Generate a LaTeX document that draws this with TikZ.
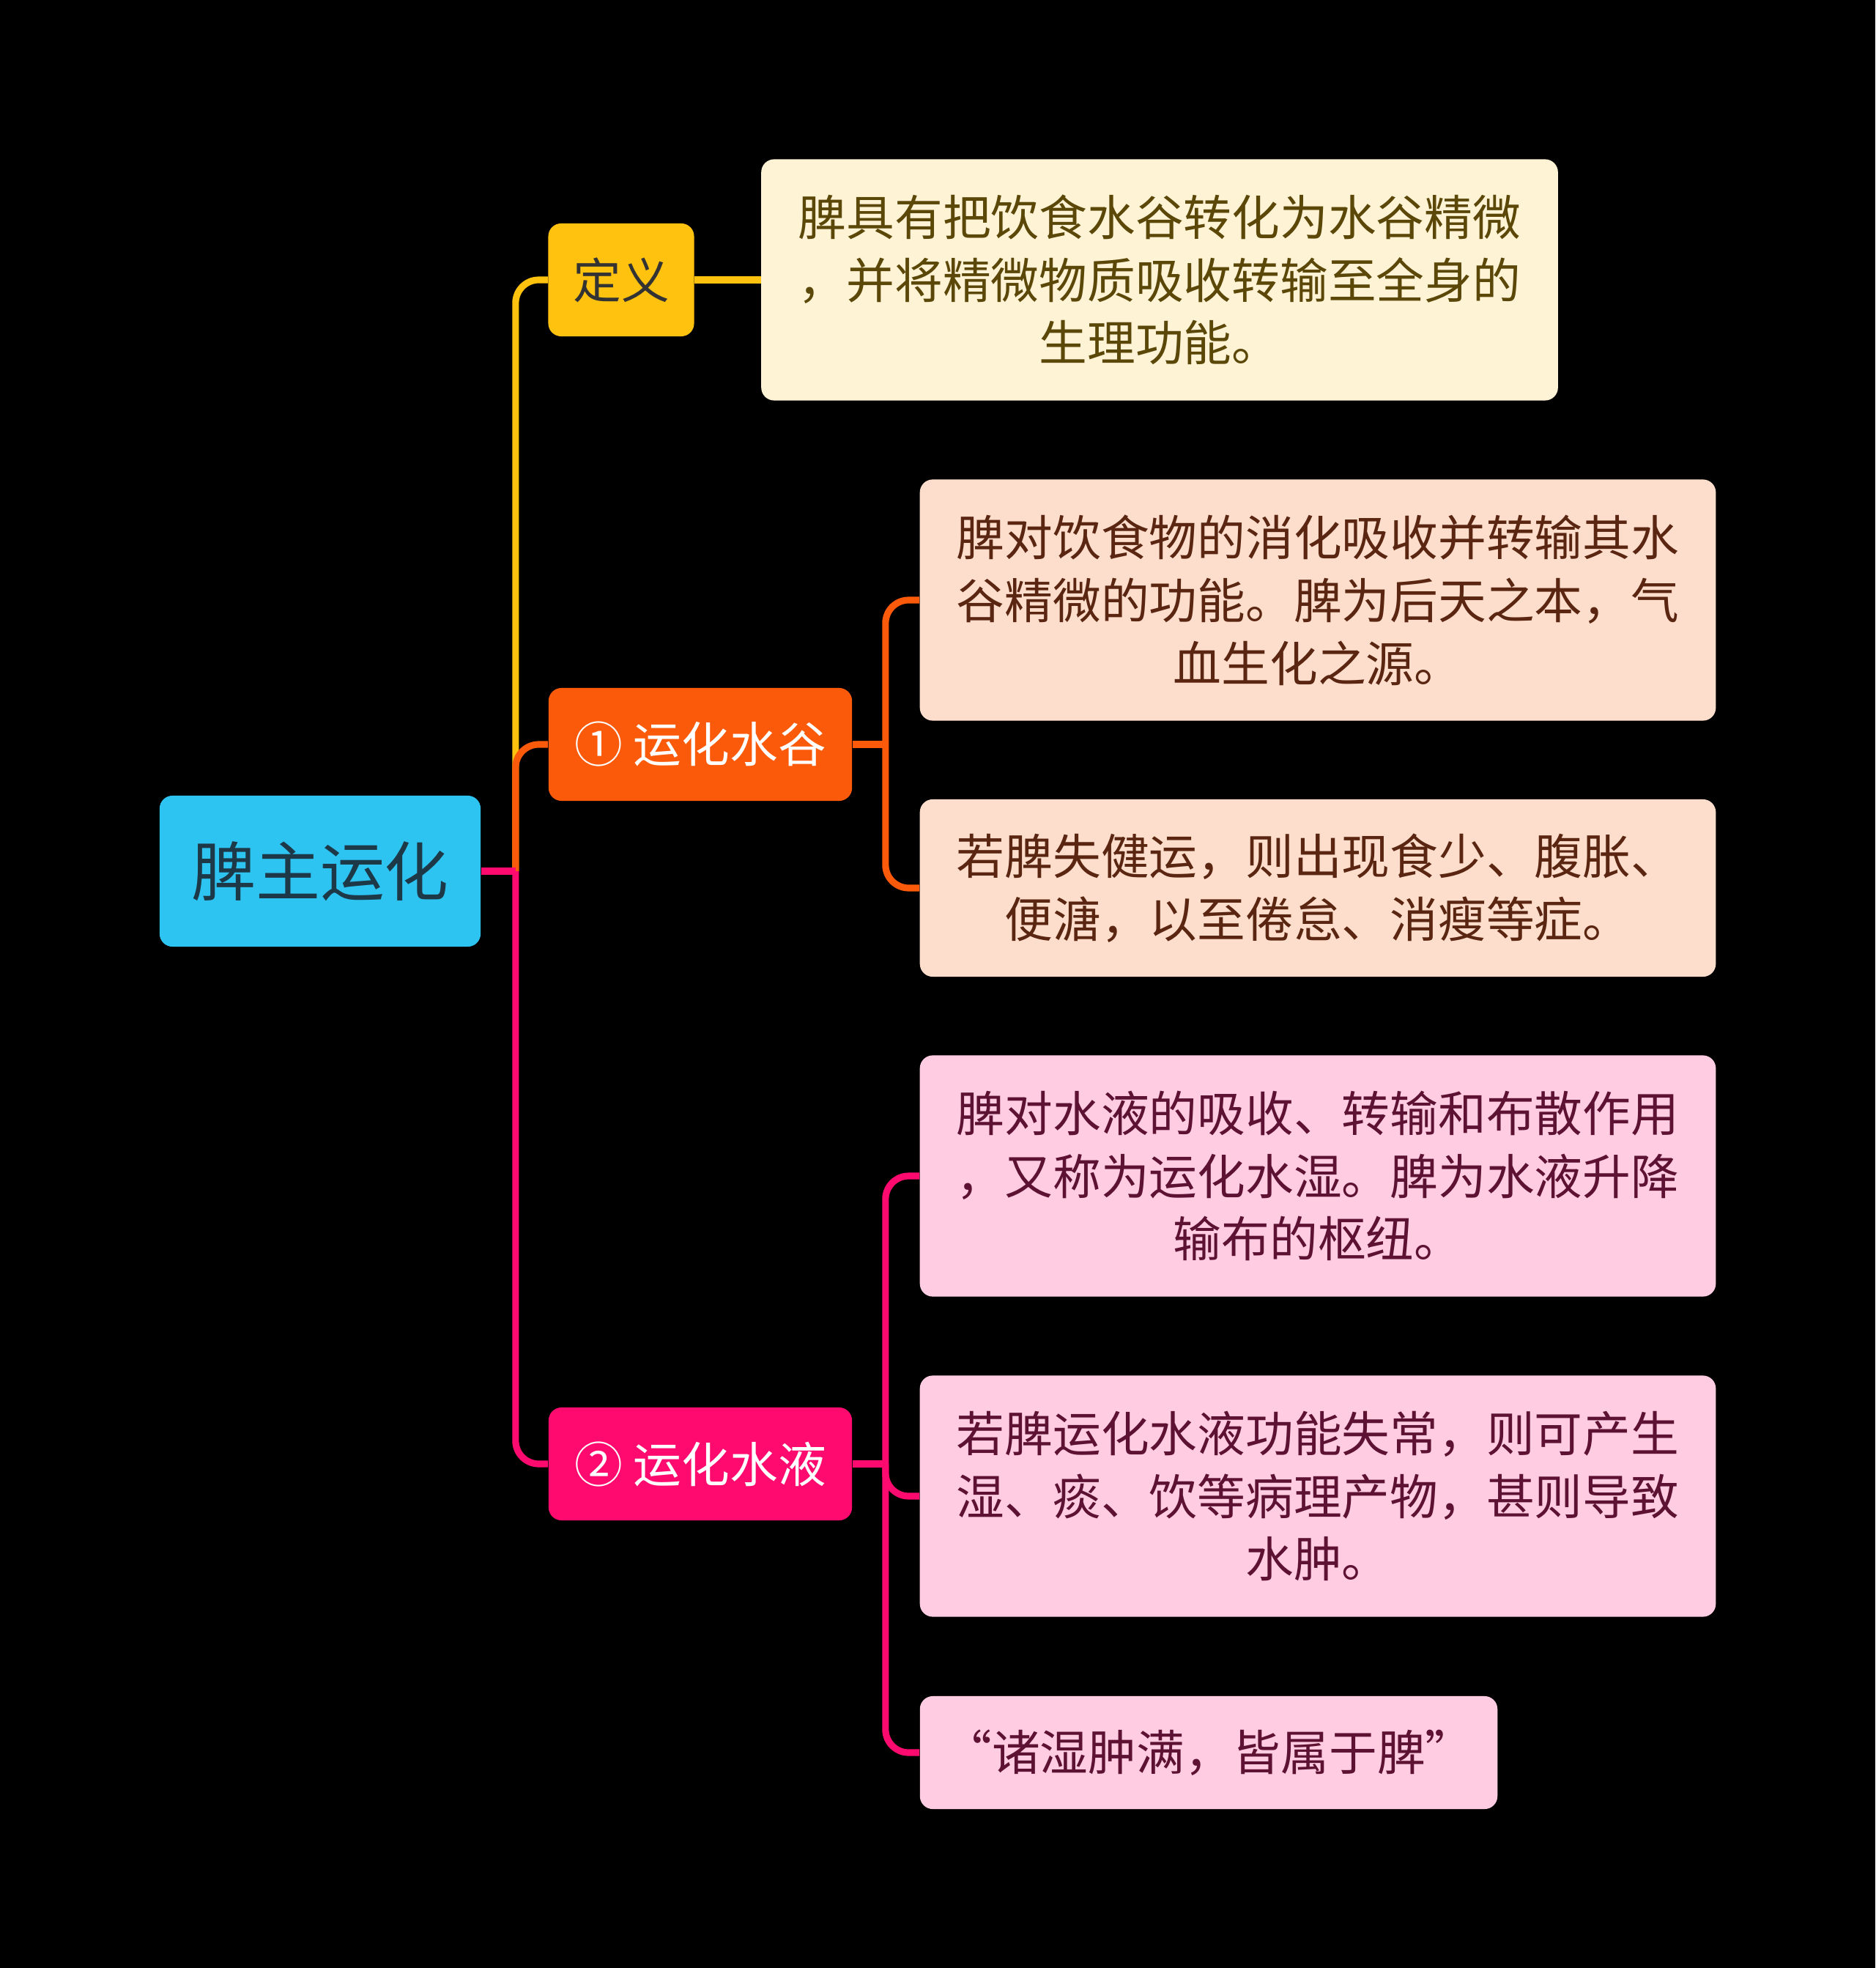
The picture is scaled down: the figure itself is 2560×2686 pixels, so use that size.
\documentclass[tikz,border=0pt]{standalone}
\usepackage{fontspec}
\newfontfamily\cjk{Noto Sans CJK SC}
\usetikzlibrary{calc}
\definecolor{rootblue}{HTML}{2EC4F2}
\definecolor{roottext}{HTML}{1D3948}
\definecolor{defyellow}{HTML}{FFC20E}
\definecolor{defcream}{HTML}{FFF3D6}
\definecolor{deftext}{HTML}{5B4708}
\definecolor{guorange}{HTML}{FA5A0A}
\definecolor{gupeach}{HTML}{FDDDCB}
\definecolor{gutext}{HTML}{5A2612}
\definecolor{yepink}{HTML}{FF0A6E}
\definecolor{yelight}{HTML}{FFCCE2}
\definecolor{yetext}{HTML}{5E1233}
\newcommand{\leaffont}{\cjk\fontsize{18.7}{24.4}\selectfont}
\tikzstyle{box}=[rounded corners=5pt, inner sep=0pt, align=center]
\tikzstyle{rootbox}=[box, fill=rootblue, text=roottext, minimum width=4.38cm, minimum height=2.06cm, font=\cjk\fontsize{25}{30}\selectfont]
\tikzstyle{topicbox}=[box, text=white, minimum width=4.14cm, minimum height=1.54cm, font=\leaffont]
\tikzstyle{leafbox}=[box, minimum width=10.86cm, minimum height=3.29cm, font=\leaffont]
\tikzstyle{branch}=[line width=2.6pt, rounded corners=9pt]
\newcommand{\drawbranch}[3]{
\draw[branch, #1] (#2) |- (#3.west);
}

\begin{document}
\begin{tikzpicture}[x=0.01cm, y=-0.01cm]
\fill[black] (0,0) rectangle (2560,2686);
\node[rootbox] (root) at (437,1189) {脾主运化};
\node[topicbox, fill=defyellow, text=black!80, minimum width=1.99cm] (def) at (848,382) {定义};
\node[topicbox, fill=guorange] (gu) at (956,1016) {① 运化水谷};
\node[topicbox, fill=yepink] (ye) at (956,1998) {② 运化水液};
\node[leafbox, fill=defcream, text=deftext, minimum width=10.87cm] (deftxt) at (1583,382) {脾具有把饮食水谷转化为水谷精微\\，并将精微物质吸收转输至全身的\\生理功能。};
\node[leafbox, fill=gupeach, text=gutext] (gu1) at (1799,819) {脾对饮食物的消化吸收并转输其水\\谷精微的功能。脾为后天之本，气\\血生化之源。};
\node[leafbox, fill=gupeach, text=gutext, minimum height=2.42cm] (gu2) at (1799,1212) {若脾失健运，则出现食少、腹胀、\\便溏，以至倦怠、消瘦等症。};
\node[leafbox, fill=yelight, text=yetext] (ye1) at (1799,1605) {脾对水液的吸收、转输和布散作用\\，又称为运化水湿。脾为水液升降\\输布的枢纽。};
\node[leafbox, fill=yelight, text=yetext] (ye2) at (1799,2042) {若脾运化水液功能失常，则可产生\\湿、痰、饮等病理产物，甚则导致\\水肿。};
\node[leafbox, fill=yelight, text=yetext, minimum width=7.88cm, minimum height=1.54cm] (ye3) at (1650,2392) {“诸湿肿满，皆属于脾”};

\coordinate (hub) at ($(root.east)+(47,0)$);
\coordinate (guhub) at ($(gu.east)+(45,0)$);
\coordinate (yehub) at ($(ye.east)+(45,0)$);

% yellow
\draw[branch, defyellow] (root.east) -- (hub);
\drawbranch{defyellow}{hub}{def}
\draw[branch, defyellow] (def.east) -- (deftxt.west);
% orange
\draw[branch, guorange] (root.east) -- (hub);
\drawbranch{guorange}{hub}{gu}
\draw[branch, guorange] (gu.east) -- (guhub);
\drawbranch{guorange}{guhub}{gu1}
\drawbranch{guorange}{guhub}{gu2}
% pink
\draw[branch, yepink] (root.east) -- (hub);
\drawbranch{yepink}{hub}{ye}
\draw[branch, yepink] (ye.east) -- (yehub);
\drawbranch{yepink}{yehub}{ye1}
\drawbranch{yepink}{yehub}{ye2}
\drawbranch{yepink}{yehub}{ye3}
\end{tikzpicture}
\end{document}
